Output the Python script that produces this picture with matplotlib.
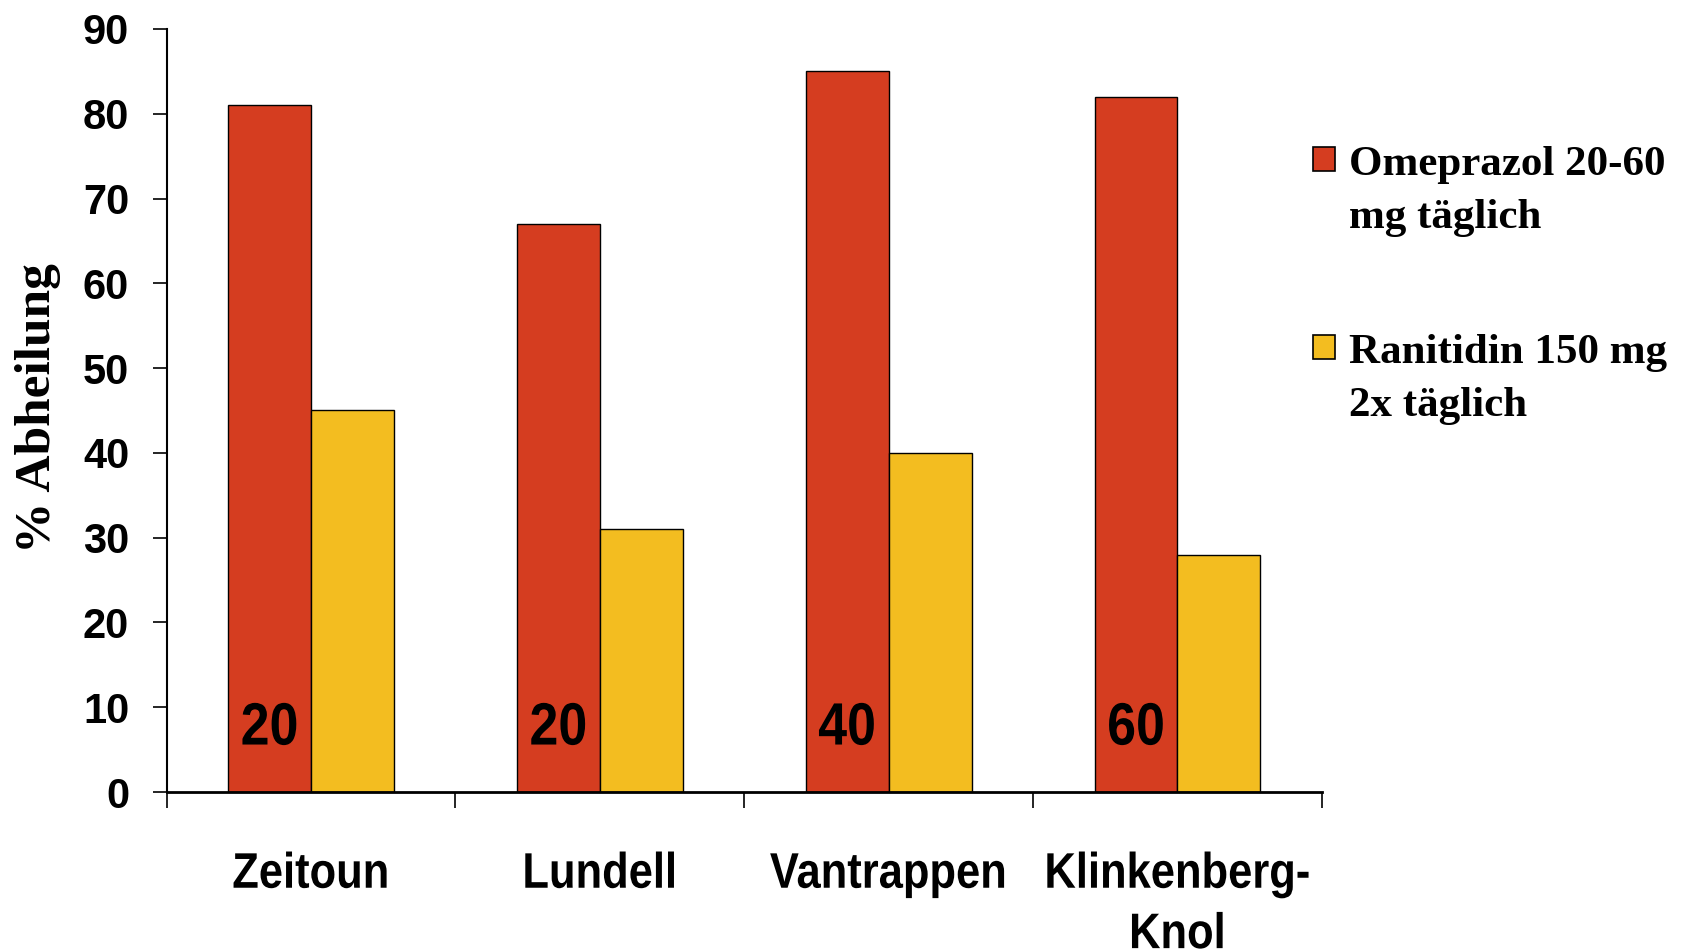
import numpy as np
import matplotlib.pyplot as plt
from matplotlib import patheffects
from matplotlib.patches import Rectangle
from matplotlib.transforms import Affine2D

# data
studies = ["Zeitoun", "Lundell", "Vantrappen", "Klinkenberg-\nKnol"]
omeprazol = [81, 67, 85, 82]
ranitidin = [45, 31, 40, 28]
doses = ["20", "20", "40", "60"]
series_labels = ["Omeprazol 20-60\nmg täglich", "Ranitidin 150 mg\n2x täglich"]
y_ticks = [0, 10, 20, 30, 40, 50, 60, 70, 80, 90]

RED = "#D53D20"
YELLOW = "#F3BD20"
sans = ["Liberation Sans", "DejaVu Sans"]
serif = ["Liberation Serif", "DejaVu Serif"]


class Squeeze(patheffects.AbstractPathEffect):
    """Narrow the text horizontally around its own centre (no narrow font here)."""

    def __init__(self, sx):
        super().__init__()
        self.sx = sx

    def draw_path(self, renderer, gc, tpath, affine, rgbFace=None):
        bb = tpath.get_extents(affine)
        cx = (bb.x0 + bb.x1) / 2
        t = affine + Affine2D().translate(-cx, 0).scale(self.sx, 1).translate(cx, 0)
        renderer.draw_path(gc, tpath, t, rgbFace)


narrow = [Squeeze(0.87)]

fig = plt.figure(figsize=(16.85, 9.5), dpi=100)
ax = fig.add_axes([0.0989, 0.1663, 0.6856, 0.8032])

x = np.arange(len(studies)) + 0.5
w = 0.287
ax.bar(x - w / 2, omeprazol, w, color=RED, edgecolor="black", linewidth=1.0)
ax.bar(x + w / 2, ranitidin, w, color=YELLOW, edgecolor="black", linewidth=1.0)

# dose inside the red bars
for xi, d in zip(x, doses):
    ax.text(xi - w / 2, 5.6, d, ha="center", va="baseline", fontsize=43,
            fontweight="bold", family=sans, path_effects=narrow)

ax.set_xlim(0, len(studies))
ax.set_ylim(0, 90)
ax.set_yticks(y_ticks)
ax.set_yticklabels([str(v) for v in y_ticks], fontsize=30, fontweight="bold",
                   family=sans)
ax.tick_params(axis="y", direction="out", length=10, width=1.2, pad=17)

# category borders as major ticks, names as minor ticks
ax.set_xticks(np.arange(len(studies) + 1))
ax.set_xticklabels([])
ax.tick_params(axis="x", which="major", direction="out", length=11.5, width=1.2)
ax.set_xticks(x, minor=True)
ax.set_xticklabels(studies, minor=True, fontsize=36, fontweight="bold",
                   family=sans, linespacing=1.4)
for lab in ax.get_xticklabels(minor=True):
    lab.set_path_effects(narrow)
ax.tick_params(axis="x", which="minor", length=0, pad=43)

for s in ["top", "right"]:
    ax.spines[s].set_visible(False)
ax.spines["left"].set_linewidth(1.5)
ax.spines["bottom"].set_linewidth(2.0)

fig.text(37.6 / 1685, 1 - 408 / 950, "% Abheilung", rotation=90,
         ha="center", va="center", fontsize=37, fontweight="bold", family=serif)

# legend drawn by hand so the squares sit on the first text line
W, H = 1685, 950
for i, (lab, col) in enumerate(zip(series_labels, [RED, YELLOW])):
    top = 147 + i * 188
    fig.patches.append(Rectangle((1313 / W, 1 - (top + 24) / H), 22 / W, 24 / H,
                                 transform=fig.transFigure, facecolor=col,
                                 edgecolor="black", linewidth=1.2))
    for j, line in enumerate(lab.split("\n")):
        base = 175 + i * 188 + j * 53
        fig.text(1349 / W, 1 - base / H, line, ha="left", va="baseline",
                 fontsize=31, fontweight="bold", family=serif)

fig.savefig("out.png", dpi=100)
